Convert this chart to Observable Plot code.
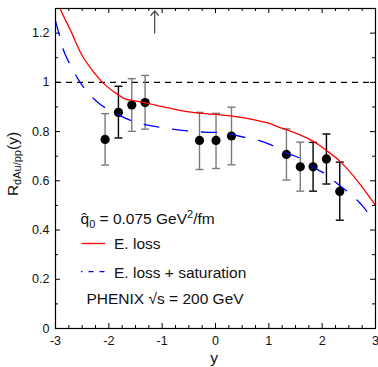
<!DOCTYPE html>
<html><head><meta charset="utf-8">
<script src="https://cdn.jsdelivr.net/npm/d3@7"></script>
<script src="https://cdn.jsdelivr.net/npm/@observablehq/plot@0.6"></script>
<style>
body{margin:0;background:#fff}
svg{font-family:"Liberation Sans",Arial,Helvetica,sans-serif}
</style>
</head><body><div id="chart"></div>
<script>
// PHENIX data points
const pointY  = [-2.07,-1.82,-1.57,-1.32,-0.30,0.01,0.30,1.33,1.59,1.83,2.08,2.33];
const pointR  = [0.768,0.878,0.908,0.918,0.764,0.764,0.782,0.707,0.657,0.657,0.689,0.557];
const errHi   = [0.873,0.984,1.015,1.028,0.878,0.874,0.899,0.811,0.757,0.756,0.790,0.676];
const errLo   = [0.664,0.774,0.801,0.810,0.646,0.650,0.665,0.603,0.558,0.558,0.587,0.440];
const errSet  = ["b","a","b","b","b","b","b","b","b","a","a","a"];

// E. loss curve
const elossY = [-2.95,-2.89,-2.71,-2.49,-2.27,-2.12,-1.83,-1.71,-1.52,-1.33,-0.9,-0.46,0.35,0.98,1.22,1.33,1.83,2.08,2.33,2.66,3.0];
const elossR = [1.32,1.288,1.207,1.105,1.038,1.0,0.950,0.934,0.925,0.918,0.897,0.879,0.862,0.835,0.815,0.808,0.761,0.723,0.68,0.6,0.5];

// E. loss + saturation curve
const satY = [-3.0,-2.92,-2.83,-2.69,-2.55,-2.38,-2.14,-1.83,-1.58,-1.27,-1.03,-0.74,-0.44,-0.16,0.17,0.45,0.75,1.03,1.33,1.57,1.85,2.07,2.32,2.54,2.76,2.94,3.0];
const satR = [1.25,1.185,1.119,1.058,1.004,0.955,0.907,0.869,0.845,0.826,0.817,0.808,0.801,0.797,0.795,0.781,0.768,0.747,0.713,0.693,0.653,0.626,0.582,0.545,0.497,0.446,0.43];

// arrow marker
const arrowY = [-1.14];
const arrowFrom = [1.2];
const arrowTo = [1.29];

const xTicks = [-3,-2,-1,0,1,2,3];
const yTicks = [0,0.2,0.4,0.6,0.8,1,1.2];
const refLine = [1];

const W = 378, H = 367, mL = 55, mR = 3, mT = 8, mB = 39;
const innerW = W - mL - mR, innerH = H - mT - mB;

const points = pointY.map((y,i)=>({y, r: pointR[i], hi: errHi[i], lo: errLo[i], set: errSet[i]}));
const eloss = elossY.map((y,i)=>({y, r: elossR[i]}));
const sat = satY.map((y,i)=>({y, r: satR[i]}));
const arrows = arrowY.map((y,i)=>({y, from: arrowFrom[i], to: arrowTo[i]}));

const xMinor = d3.range(-3, 3.001, 0.25).filter(v => Math.abs(v - Math.round(v)) > 1e-6);
const yMinor = d3.range(0.1, 1.3, 0.2);

const cap = {draw(ctx, size){ const w = Math.sqrt(size/Math.PI); ctx.moveTo(-w,0); ctx.lineTo(w,0);} };

const plot = Plot.plot({
  width: W, height: H,
  marginLeft: mL, marginRight: mR, marginTop: mT, marginBottom: mB,
  x: {domain: [-3,3]},
  y: {domain: [0,1.3]},
  color: {domain: ["a","b"], range: ["#000000","#7a7a7a"]},
  style: {fontSize: "12px", color: "#111", background: "#fff"},
  marks: [
    Plot.axisX({ticks: xTicks, tickSize: 0, tickPadding: 8, tickFormat: d => String(d), label: null, fontSize: 12.5}),
    Plot.axisY({ticks: yTicks, tickSize: 0, tickPadding: 6, tickFormat: d => String(d), label: null, fontSize: 12.5}),
    // inward ticks
    Plot.tickX(xTicks, {x: d => d, insetTop: innerH - 5, stroke: "#000"}),
    Plot.tickX(xTicks, {x: d => d, insetBottom: innerH - 5, stroke: "#000"}),
    Plot.tickX(xMinor, {x: d => d, insetTop: innerH - 3, stroke: "#000"}),
    Plot.tickX(xMinor, {x: d => d, insetBottom: innerH - 3, stroke: "#000"}),
    Plot.tickY(yTicks, {y: d => d, insetRight: innerW - 5, stroke: "#000"}),
    Plot.tickY(yTicks, {y: d => d, insetLeft: innerW - 5, stroke: "#000"}),
    Plot.tickY(yMinor, {y: d => d, insetRight: innerW - 3, stroke: "#000"}),
    Plot.tickY(yMinor, {y: d => d, insetLeft: innerW - 3, stroke: "#000"}),
    Plot.ruleY(refLine, {y: d => d, stroke: "#000", strokeWidth: 1.2, strokeDasharray: "6,5"}),
    Plot.arrow(arrows, {x1: "y", x2: "y", y1: "from", y2: "to", stroke: "#444", strokeWidth: 1.2, headLength: 7, headAngle: 80}),
    // error bars
    Plot.ruleX(points, {x: "y", y1: "lo", y2: "hi", stroke: "set", strokeWidth: 1.4}),
    Plot.dot(points, {x: "y", y: "hi", symbol: cap, r: 4, stroke: "set", fill: "none", strokeWidth: 1.4}),
    Plot.dot(points, {x: "y", y: "lo", symbol: cap, r: 4, stroke: "set", fill: "none", strokeWidth: 1.4}),
    Plot.dot(points, {x: "y", y: "r", r: 4.6, fill: "#000", stroke: "none"}),
    // curves
    Plot.line(eloss, {x: "y", y: "r", stroke: "#ff0000", strokeWidth: 1.3, curve: "catmull-rom", clip: true}),
    Plot.line(sat, {x: "y", y: "r", stroke: "#0000ff", strokeWidth: 1.3, curve: "catmull-rom", strokeDasharray: "15,14", clip: true}),
    Plot.frame({stroke: "#000", strokeWidth: 1.2})
  ]
});

document.getElementById("chart").appendChild(plot);

const svg = d3.select(plot);
const F = '"Liberation Sans",Arial,Helvetica,sans-serif';

// y-axis label
const yl = svg.append("text")
  .attr("transform", "translate(17.5,164) rotate(-90)")
  .attr("text-anchor", "middle").attr("font-size", 15.5).attr("font-family", F).attr("fill", "#111");
yl.append("tspan").text("R");
yl.append("tspan").attr("font-size", 11).attr("dy", 3).text("dAu/pp");
yl.append("tspan").attr("dy", -3).text("(y)");

// x-axis label
svg.append("text").attr("x", 214).attr("y", 363).attr("text-anchor", "middle")
  .attr("font-size", 15.5).attr("font-family", F).attr("fill", "#111").text("y");

// legend
const lg = svg.append("g").attr("font-family", F).attr("font-size", 15.5).attr("fill", "#111").attr("text-anchor", "start");
const q = lg.append("text").attr("x", 80.5).attr("y", 223.5);
q.append("tspan").text("q\u0302");
q.append("tspan").attr("font-size", 11).attr("dy", 4).text("0");
q.append("tspan").attr("dy", -4).text(" = 0.075 GeV");
q.append("tspan").attr("font-size", 11).attr("dy", -6).text("2");
q.append("tspan").attr("dy", 6).text("/fm");

lg.append("line").attr("x1", 81.5).attr("x2", 105).attr("y1", 243.5).attr("y2", 243.5)
  .attr("stroke", "#ff0000").attr("stroke-width", 1.3);
lg.append("text").attr("x", 114).attr("y", 249).text("E. loss");

lg.append("line").attr("x1", 81).attr("x2", 105).attr("y1", 271.7).attr("y2", 271.7)
  .attr("stroke", "#0000ff").attr("stroke-width", 1.3).attr("stroke-dasharray", "5,6").attr("stroke-dashoffset", 3.5);
lg.append("text").attr("x", 114).attr("y", 277.7).text("E. loss + saturation");

lg.append("text").attr("x", 86.5).attr("y", 304.3).text("PHENIX \u221As = 200 GeV");
</script>
</body></html>
